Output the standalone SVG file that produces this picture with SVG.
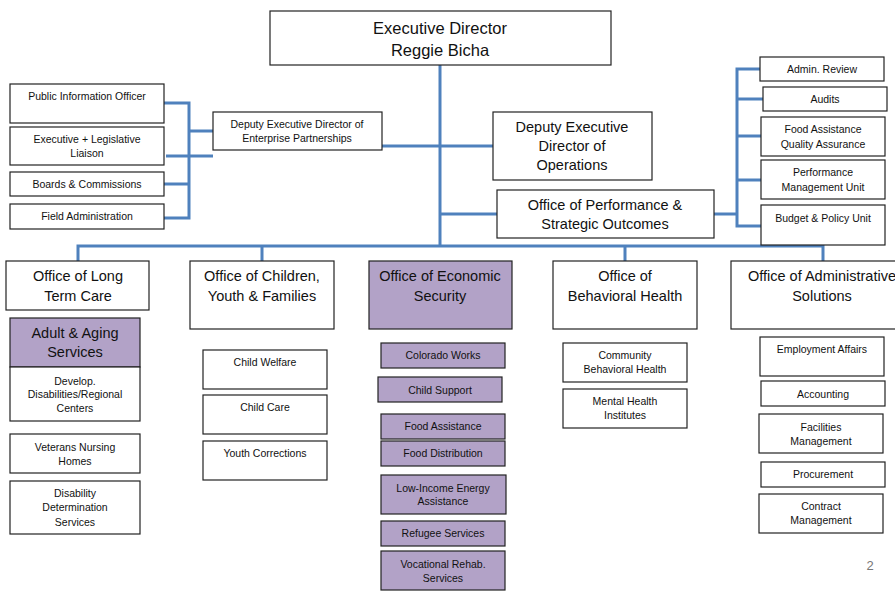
<svg xmlns="http://www.w3.org/2000/svg" width="895" height="592" viewBox="0 0 895 592">
<style>
rect{fill:#fff;stroke:#222;stroke-width:1.2}
rect.p{fill:#b2a2c7}
text{font-family:"Liberation Sans",Arial,sans-serif;fill:#111;text-anchor:middle}
.s{font-size:10.5px}
.m{font-size:14.5px}
.l{font-size:16.5px}
#conn path{fill:none;stroke:#4f81bd;stroke-width:3}
</style>
<rect x="0" y="0" width="895" height="592" style="fill:#fff;stroke:none"/>
<g id="conn">
<path d="M440 57V247"/>
<path d="M78 261V246H823V261"/>
<path d="M262 246V261M625 246V261"/>
<path d="M382 146H440M440 146H493M440 214H497M714 214H737"/>
<path d="M164 103H189V218H164M164 184H189M189 131H213M166 156H213"/>
<path d="M760 69H737V226H761M737 99H763M737 136H761M737 180H761"/>
</g>
<g id="exec"><rect x="270" y="11" width="341" height="54"/><text class="l" x="440" y="34">Executive Director</text><text class="l" x="440" y="56">Reggie Bicha</text></g>
<g id="pio"><rect x="10" y="84" width="154" height="39"/><text class="s" x="87" y="100">Public Information Officer</text></g>
<g id="liaison"><rect x="10" y="127" width="154" height="38"/><text class="s" x="87" y="143">Executive + Legislative</text><text class="s" x="87" y="157">Liaison</text></g>
<g id="boards"><rect x="10" y="172" width="154" height="24"/><text class="s" x="87" y="188">Boards &amp; Commissions</text></g>
<g id="field"><rect x="10" y="204" width="154" height="25"/><text class="s" x="87" y="220">Field Administration</text></g>
<g id="dep-ent"><rect x="213" y="112" width="169" height="38"/><text class="s" x="297" y="128">Deputy Executive Director of</text><text class="s" x="297" y="142">Enterprise Partnerships</text></g>
<g id="dep-ops"><rect x="493" y="112" width="159" height="68"/><text class="m" x="572" y="132">Deputy Executive</text><text class="m" x="572" y="151">Director of</text><text class="m" x="572" y="170">Operations</text></g>
<g id="perf"><rect x="497" y="190" width="217" height="48"/><text class="m" x="605" y="210">Office of Performance &amp;</text><text class="m" x="605" y="229">Strategic Outcomes</text></g>
<g id="admin-review"><rect x="760" y="57" width="124" height="24"/><text class="s" x="822" y="73">Admin. Review</text></g>
<g id="audits"><rect x="763" y="87" width="124" height="24"/><text class="s" x="825" y="103">Audits</text></g>
<g id="faqa"><rect x="761" y="117" width="124" height="39"/><text class="s" x="823" y="133">Food Assistance</text><text class="s" x="823" y="148">Quality Assurance</text></g>
<g id="pmu"><rect x="761" y="160" width="124" height="39"/><text class="s" x="823" y="176">Performance</text><text class="s" x="823" y="191">Management Unit</text></g>
<g id="budget"><rect x="761" y="205" width="124" height="40"/><text class="s" x="823" y="222">Budget &amp; Policy Unit</text></g>
<g id="oltc"><rect x="6" y="261" width="143" height="49"/><text class="m" x="78" y="281">Office of Long</text><text class="m" x="78" y="301">Term Care</text></g>
<g id="aas"><rect class="p" x="10" y="318" width="130" height="49"/><text class="m" x="75" y="338">Adult &amp; Aging</text><text class="m" x="75" y="357">Services</text></g>
<g id="ddrc"><rect x="10" y="367" width="130" height="54"/><text class="s" x="75" y="385">Develop.</text><text class="s" x="75" y="398">Disabilities/Regional</text><text class="s" x="75" y="412">Centers</text></g>
<g id="vnh"><rect x="10" y="434" width="130" height="39"/><text class="s" x="75" y="451">Veterans Nursing</text><text class="s" x="75" y="465">Homes</text></g>
<g id="dds"><rect x="10" y="481" width="130" height="53"/><text class="s" x="75" y="497">Disability</text><text class="s" x="75" y="511">Determination</text><text class="s" x="75" y="526">Services</text></g>
<g id="ocyf"><rect x="190" y="261" width="144" height="68"/><text class="m" x="262" y="281">Office of Children,</text><text class="m" x="262" y="301">Youth &amp; Families</text></g>
<g id="cw"><rect x="203" y="350" width="124" height="39"/><text class="s" x="265" y="366">Child Welfare</text></g>
<g id="cc"><rect x="203" y="395" width="124" height="39"/><text class="s" x="265" y="411">Child Care</text></g>
<g id="yc"><rect x="203" y="441" width="124" height="39"/><text class="s" x="265" y="457">Youth Corrections</text></g>
<g id="oes"><rect class="p" x="369" y="261" width="143" height="68"/><text class="m" x="440" y="281">Office of Economic</text><text class="m" x="440" y="301">Security</text></g>
<g id="cow"><rect class="p" x="381" y="343" width="124" height="25"/><text class="s" x="443" y="359">Colorado Works</text></g>
<g id="cs"><rect class="p" x="378" y="377" width="124" height="25"/><text class="s" x="440" y="394">Child Support</text></g>
<g id="fa"><rect class="p" x="381" y="414" width="124" height="25"/><text class="s" x="443" y="430">Food Assistance</text></g>
<g id="fd"><rect class="p" x="381" y="441" width="124" height="25"/><text class="s" x="443" y="457">Food Distribution</text></g>
<g id="liea"><rect class="p" x="381" y="475" width="125" height="39"/><text class="s" x="443" y="492">Low-Income Energy</text><text class="s" x="443" y="505">Assistance</text></g>
<g id="rs"><rect class="p" x="381" y="521" width="124" height="25"/><text class="s" x="443" y="537">Refugee Services</text></g>
<g id="vrs"><rect class="p" x="381" y="551" width="124" height="39"/><text class="s" x="443" y="568">Vocational Rehab.</text><text class="s" x="443" y="582">Services</text></g>
<g id="obh"><rect x="553" y="261" width="144" height="68"/><text class="m" x="625" y="281">Office of</text><text class="m" x="625" y="301">Behavioral Health</text></g>
<g id="cbh"><rect x="563" y="343" width="124" height="39"/><text class="s" x="625" y="359">Community</text><text class="s" x="625" y="373">Behavioral Health</text></g>
<g id="mhi"><rect x="563" y="389" width="124" height="39"/><text class="s" x="625" y="405">Mental Health</text><text class="s" x="625" y="419">Institutes</text></g>
<g id="oas"><rect x="731" y="261" width="170" height="68"/><text class="m" x="822" y="281">Office of Administrative</text><text class="m" x="822" y="301">Solutions</text></g>
<g id="ea"><rect x="760" y="337" width="124" height="39"/><text class="s" x="822" y="353">Employment Affairs</text></g>
<g id="acc"><rect x="761" y="381" width="124" height="25"/><text class="s" x="823" y="398">Accounting</text></g>
<g id="fm"><rect x="759" y="414" width="124" height="39"/><text class="s" x="821" y="431">Facilities</text><text class="s" x="821" y="445">Management</text></g>
<g id="proc"><rect x="761" y="462" width="124" height="25"/><text class="s" x="823" y="478">Procurement</text></g>
<g id="cm"><rect x="759" y="494" width="124" height="39"/><text class="s" x="821" y="510">Contract</text><text class="s" x="821" y="524">Management</text></g>
<text x="870" y="570" style="font-size:13px;fill:#777">2</text>
</svg>
